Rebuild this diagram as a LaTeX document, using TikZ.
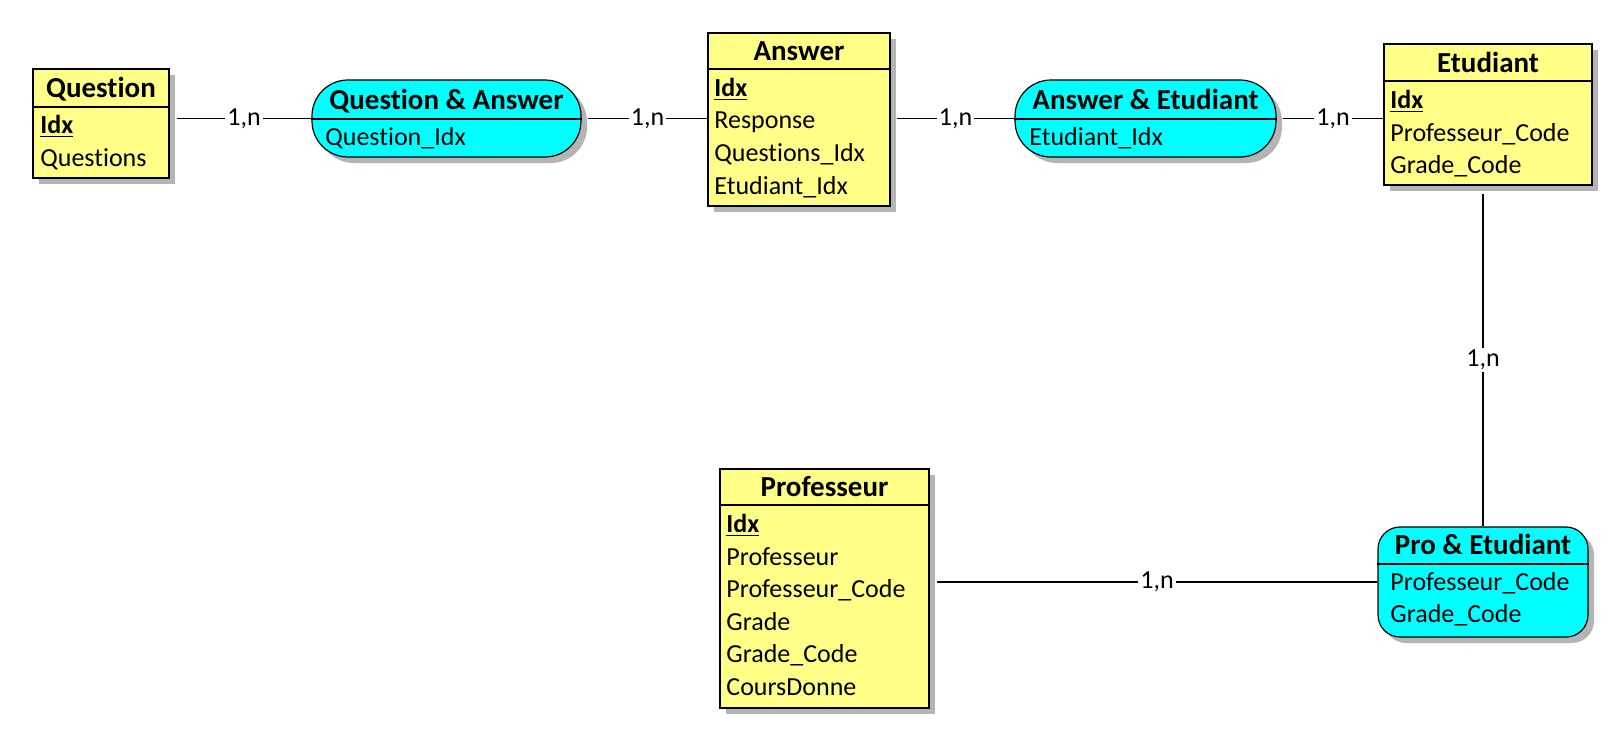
\documentclass[tikz,border=0pt]{standalone}
\usepackage{fontspec}
\setmainfont{Carlito}[Ligatures=NoCommon]
\usetikzlibrary{positioning,shadows,calc}
\definecolor{ERyellow}{HTML}{FFFF88}
\definecolor{ERcyan}{HTML}{00FFFF}
\definecolor{ERshadow}{HTML}{B4B4B4}

\tikzset{
  entity/.style={draw, fill=ERyellow, line width=0.6pt, inner sep=0pt,
    drop shadow={shadow xshift=3pt, shadow yshift=-3pt, fill=ERshadow, opacity=1}},
  relation/.style={entity, fill=ERcyan, rounded corners=18pt},
  title/.style={font=\fontsize{14.5}{17}\selectfont\bfseries, inner sep=0pt, text height=9pt, text depth=0pt},
  attr/.style={font=\fontsize{13}{15}\selectfont, anchor=west, inner sep=0pt, text height=8pt, text depth=0pt},
  card/.style={font=\fontsize{13}{15}\selectfont, fill=white, inner sep=1pt},
  link/.style={line width=0.6pt},
}
\newcommand{\keyattr}[1]{\underline{\textbf{#1}}}

\begin{document}
\begin{tikzpicture}[x=0.5pt, y=-0.5pt]
  \useasboundingbox (0,0) rectangle (1613,735);

  % entities
  \node[entity, minimum width=68pt, minimum height=54.5pt] (q) at (101,123.5) {};
  \node[entity, minimum width=91pt, minimum height=86.5pt] (a) at (799,119.5) {};
  \node[entity, minimum width=104pt, minimum height=70.5pt] (et) at (1488,114.5) {};
  \node[entity, minimum width=104.5pt, minimum height=119.5pt] (pr) at (824.5,588.5) {};

  % relations
  \node[relation, minimum width=134.5pt, minimum height=38.5pt] (qa) at (446.5,118.5) {};
  \node[relation, minimum width=130.5pt, minimum height=38.5pt] (ae) at (1145.5,118.5) {};
  \node[relation, rounded corners=11pt, minimum width=105pt, minimum height=55pt] (pe) at (1483,582) {};

  % header lines
  \draw[link] (q.west |- 0,107) -- (q.east |- 0,107);
  \draw[link] (a.west |- 0,69) -- (a.east |- 0,69);
  \draw[link] (et.west |- 0,81) -- (et.east |- 0,81);
  \draw[link] (pr.west |- 0,505) -- (pr.east |- 0,505);
  \draw[link] (qa.west |- 0,119) -- (qa.east |- 0,119);
  \draw[link] (ae.west |- 0,119) -- (ae.east |- 0,119);
  \draw[link] (pe.west |- 0,564) -- (pe.east |- 0,564);

  % titles
  \node[title] (qt) at (101,88) {Question};
  \node[title] (at) at (799,51) {Answer};
  \node[title] (ett) at (1488,63) {Etudiant};
  \node[title] (prt) at (824.5,487) {Professeur};
  \node[title] (qat) at (446.5,100) {Question \& Answer};
  \node[title] (aet) at (1145.5,100) {Answer \& Etudiant};
  \node[title] (pet) at (1483,545) {Pro \& Etudiant};

  % attributes
  \node[attr] (q1) at (40,125) {\keyattr{Idx}};
  \node[attr] (q2) at (40,158) {Questions};

  \node[attr] (qa1) at (325,137) {Question\_Idx};

  \node[attr] (a1) at (714,88) {\keyattr{Idx}};
  \node[attr] (a2) at (714,120) {Response};
  \node[attr] (a3) at (714,153) {Questions\_Idx};
  \node[attr] (a4) at (714,186) {Etudiant\_Idx};

  \node[attr] (ae1) at (1029,137) {Etudiant\_Idx};

  \node[attr] (et1) at (1390,100) {\keyattr{Idx}};
  \node[attr] (et2) at (1390,133) {Professeur\_Code};
  \node[attr] (et3) at (1390,165) {Grade\_Code};

  \node[attr] (pe1) at (1390,582) {Professeur\_Code};
  \node[attr] (pe2) at (1390,614) {Grade\_Code};

  \node[attr] (pr1) at (726,524) {\keyattr{Idx}};
  \node[attr] (pr2) at (726,557) {Professeur};
  \node[attr] (pr3) at (726,589) {Professeur\_Code};
  \node[attr] (pr4) at (726,622) {Grade};
  \node[attr] (pr5) at (726,654) {Grade\_Code};
  \node[attr] (pr6) at (726,687) {CoursDonne};

  % connectors
  \draw[link] ([xshift=3.5pt]q.east |- qa.west) -- node[card] {1,n} (qa.west);
  \draw[link] ([xshift=3pt]qa.east) -- node[card] {1,n} (qa.east -| a.west);
  \draw[link] ([xshift=3pt]a.east |- ae.west) -- node[card] {1,n} (ae.west);
  \draw[link] ([xshift=3pt]ae.east) -- node[card] {1,n} (ae.east -| et.west);
  \draw[link] ([yshift=-4pt]et.south -| pe.north) -- node[card] {1,n} (pe.north);
  \draw[link] ([xshift=3.5pt]pr.east |- pe.west) -- node[card] {1,n} (pe.west);
\end{tikzpicture}
\end{document}
